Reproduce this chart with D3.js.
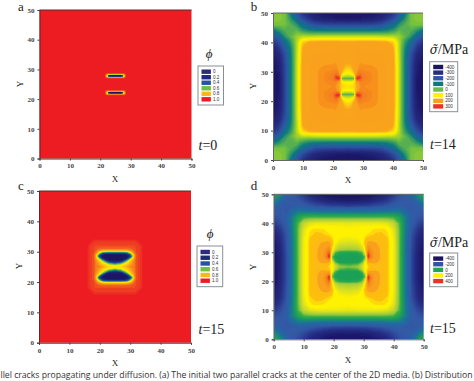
<!DOCTYPE html>
<html>
<head>
<meta charset="utf-8">
<script src="https://cdn.jsdelivr.net/npm/d3@7"></script>
<style>
  html, body { margin: 0; padding: 0; background: #fff; overflow: hidden; }
  svg { display: block; }
  text { font-family: "Liberation Serif", serif; fill: #222; }
  .tick text { font-size: 7px; font-weight: bold; fill: #444; }
  .legend-label { font-family: "Liberation Sans", sans-serif; font-size: 4.6px; fill: #333; }
  .caption { font-family: "Open Sans", sans-serif; font-size: 8.7px; fill: #333; }
</style>
</head>
<body>
<div id="chart"></div>
<script>
var svgWidth = 474;
var svgHeight = 381;

var axisTicks = [0, 10, 20, 30, 40, 50];

// legends
var phiLegend = ["0", "0.2", "0.4", "0.6", "0.8", "1.0"];
var stressLegendB = ["-400", "-300", "-200", "-100", "0", "100", "200", "300"];
var stressLegendD = ["-400", "-200", "0", "200", "400"];

// colour maps, value then colour
var phiStops = [0, 0.2, 0.4, 0.5, 0.6, 0.7, 0.8, 0.9, 0.96, 1];
var phiColors = ["#1b1464", "#1f2a7a", "#2156a5", "#1c9a7a", "#72bf44", "#fff200", "#fdb913", "#f5731f", "#ef3e24", "#ed1c24"];
var stressStopsB = [-400, -300, -200, -100, 0, 100, 130, 160, 203, 212, 260, 300];
var stressColorsB = ["#1b1464", "#262c80", "#2f55a5", "#0b7a80", "#6abd45", "#fff200", "#fdd310", "#f9a51e", "#f9a01b", "#f68d1e", "#f26a23", "#ee3124"];
var stressStopsD = [-400, -300, -200, -100, -40, 0, 35, 70, 110, 150, 200, 224, 235, 270, 280, 300, 340, 400];
var stressColorsD = ["#1b1464", "#262f85", "#3358a6", "#1f6fa0", "#1c8f6c", "#1fa651", "#3fae49", "#8cc63f", "#b5d334", "#d7df23", "#fff200", "#fff200", "#fdc010", "#fdb913", "#f9a01b", "#f9a01b", "#f58220", "#ee3124"];

// field values, lower left quarter of each panel,
// the panels are close to symmetric about x=25 and y=25
var phiXa = [0, 21.5, 22.2, 22.8, 23.5, 25];
var phiYa = [0, 21.2, 21.5, 21.9, 22.15, 22.4, 22.8, 23.1, 25];
var phiA = [
  [1, 1, 1, 1, 1, 1],
  [1, 1, 1, 1, 1, 1],
  [1, 1, 0.9, 0.9, 0.9, 0.9],
  [1, 1, 0.75, 0.25, 0.1, 0.1],
  [1, 1, 0.75, 0.1, 0, 0],
  [1, 1, 0.75, 0.25, 0.1, 0.1],
  [1, 1, 0.9, 0.9, 0.9, 0.9],
  [1, 1, 1, 1, 1, 1],
  [1, 1, 1, 1, 1, 1]
];

var phiXc = [0, 16, 17, 18, 18.6, 19.2, 20, 21, 22, 23, 25];
var phiYc = [0, 16, 17, 18, 19, 19.6, 20, 20.4, 20.8, 21.4, 22, 22.6, 23, 23.5, 24, 24.5, 25];
var phiC = [
  [1, 1, 1, 1, 1, 1, 1, 1, 1, 1, 1],
  [1, 1, 1, 1, 1, 1, 1, 1, 1, 1, 1],
  [1, 1, 1, 0.98, 0.97, 0.97, 0.97, 0.97, 0.97, 0.97, 0.97],
  [1, 1, 0.98, 0.97, 0.96, 0.96, 0.96, 0.96, 0.96, 0.96, 0.96],
  [1, 1, 0.97, 0.96, 0.95, 0.94, 0.93, 0.92, 0.92, 0.92, 0.92],
  [1, 1, 0.97, 0.96, 0.94, 0.91, 0.86, 0.82, 0.8, 0.8, 0.8],
  [1, 1, 0.97, 0.96, 0.93, 0.86, 0.76, 0.68, 0.64, 0.62, 0.62],
  [1, 1, 0.97, 0.96, 0.9, 0.82, 0.66, 0.42, 0.38, 0.35, 0.35],
  [1, 1, 0.97, 0.95, 0.87, 0.74, 0.5, 0.25, 0.15, 0.12, 0.15],
  [1, 1, 0.97, 0.95, 0.84, 0.6, 0.25, 0.05, 0.02, 0, 0],
  [1, 1, 0.97, 0.95, 0.86, 0.72, 0.45, 0.12, 0.03, 0, 0],
  [1, 1, 0.97, 0.95, 0.88, 0.8, 0.7, 0.4, 0.12, 0.03, 0.03],
  [1, 1, 0.97, 0.95, 0.89, 0.84, 0.76, 0.62, 0.35, 0.12, 0.12],
  [1, 1, 0.97, 0.95, 0.9, 0.86, 0.8, 0.7, 0.6, 0.4, 0.25],
  [1, 1, 0.97, 0.95, 0.9, 0.87, 0.83, 0.76, 0.7, 0.62, 0.5],
  [1, 1, 0.97, 0.95, 0.9, 0.88, 0.85, 0.8, 0.76, 0.72, 0.68],
  [1, 1, 0.97, 0.95, 0.91, 0.89, 0.88, 0.84, 0.8, 0.76, 0.74]
];

var stressXb = [0, 2, 4, 6, 8, 9, 10, 12, 14, 17, 20, 21, 22, 23, 24, 25];
var stressYb = [0, 2, 4, 6, 8, 9, 10, 12, 14, 17, 19, 20, 21, 21.8, 22.3, 22.8, 23.5, 25];
var stressB = [
  [30, 25, 15, -110, -190, -240, -280, -320, -350, -380, -395, -400, -400, -400, -400, -400],
  [25, 25, 15, -60, -150, -190, -220, -270, -310, -340, -350, -360, -360, -360, -360, -370],
  [15, 15, 10, -20, -60, -100, -130, -175, -210, -225, -230, -230, -230, -230, -230, -230],
  [-110, -60, -20, -20, 0, -30, -50, -75, -85, -90, -90, -90, -90, -90, -90, -90],
  [-190, -150, -60, 0, 40, 50, 60, 60, 65, 70, 70, 70, 70, 70, 70, 70],
  [-240, -190, -100, -30, 50, 85, 105, 115, 118, 120, 120, 120, 120, 120, 120, 120],
  [-280, -220, -130, -50, 60, 105, 140, 170, 178, 185, 185, 185, 185, 180, 175, 175],
  [-320, -270, -175, -75, 60, 115, 170, 190, 195, 198, 198, 198, 198, 195, 190, 188],
  [-350, -310, -210, -85, 65, 118, 178, 195, 200, 203, 203, 203, 203, 195, 190, 185],
  [-380, -340, -225, -90, 70, 120, 185, 198, 205, 207, 208, 210, 205, 180, 170, 165],
  [-395, -350, -230, -90, 70, 125, 185, 198, 205, 215, 218, 220, 205, 170, 145, 135],
  [-395, -350, -230, -90, 70, 125, 185, 198, 205, 218, 225, 235, 215, 160, 120, 110],
  [-400, -360, -230, -90, 70, 125, 185, 198, 205, 220, 235, 265, 230, 120, 90, 85],
  [-400, -365, -230, -90, 70, 125, 185, 198, 205, 220, 240, 300, 300, 60, 40, 40],
  [-400, -365, -230, -90, 70, 125, 185, 198, 205, 220, 240, 290, 330, -10, -20, -20],
  [-400, -365, -230, -90, 70, 125, 185, 198, 205, 220, 235, 265, 260, 60, 40, 40],
  [-400, -370, -230, -90, 70, 125, 185, 198, 205, 220, 228, 230, 190, 110, 100, 100],
  [-400, -370, -230, -90, 70, 125, 185, 198, 205, 218, 220, 215, 165, 135, 125, 120]
];

var stressXd = [0, 2, 4, 6, 8, 10, 12, 14, 16, 17, 18, 18.5, 19.5, 20.5, 22, 25];
var stressYd = [0, 2, 4, 6, 8, 10, 12, 14, 15, 17, 19, 20, 21, 21.6, 22.5, 23.5, 24, 25];
var stressD = [
  [20, -30, -130, -190, -220, -270, -320, -350, -370, -380, -390, -390, -395, -400, -400, -400],
  [-30, -90, -170, -190, -200, -230, -270, -300, -320, -330, -340, -345, -350, -350, -360, -360],
  [-130, -170, -200, -190, -170, -180, -195, -215, -225, -235, -240, -245, -250, -250, -250, -260],
  [-190, -190, -190, -120, -70, -70, -75, -80, -85, -85, -85, -85, -85, -85, -85, -85],
  [-220, -200, -170, -70, 0, 40, 50, 50, 50, 50, 50, 50, 50, 50, 50, 50],
  [-270, -230, -180, -70, 40, 130, 165, 178, 180, 180, 180, 180, 180, 180, 180, 175],
  [-320, -270, -195, -75, 50, 165, 225, 235, 232, 228, 222, 220, 218, 215, 212, 208],
  [-350, -300, -215, -80, 50, 178, 235, 245, 245, 240, 235, 232, 228, 222, 210, 205],
  [-360, -310, -220, -85, 50, 185, 240, 250, 255, 255, 250, 248, 235, 218, 200, 190],
  [-370, -320, -225, -85, 50, 190, 245, 265, 285, 295, 300, 295, 260, 200, 160, 150],
  [-390, -330, -230, -90, 50, 190, 245, 270, 300, 310, 330, 340, 230, 140, 105, 95],
  [-395, -335, -235, -90, 50, 190, 245, 272, 300, 315, 350, 370, 190, 60, 20, 10],
  [-400, -340, -235, -90, 50, 190, 245, 272, 300, 320, 370, 420, 110, 15, -5, -10],
  [-400, -340, -235, -90, 50, 190, 245, 272, 300, 320, 365, 420, 60, 0, -10, -10],
  [-400, -340, -235, -90, 50, 190, 245, 272, 295, 310, 330, 345, 110, 10, -10, -10],
  [-400, -340, -235, -90, 50, 190, 245, 270, 285, 290, 290, 280, 200, 60, 0, -5],
  [-400, -340, -235, -90, 50, 190, 245, 268, 272, 270, 260, 250, 215, 110, 45, 25],
  [-400, -340, -235, -90, 50, 190, 245, 260, 262, 260, 245, 235, 210, 150, 85, 70]
];

var captionText = "llel cracks propagating under diffusion. (a) The initial two parallel cracks at the center of the 2D media. (b) Distribution";

var phiColor = d3.scaleLinear().domain(phiStops).range(phiColors).clamp(true);
var colorB = d3.scaleLinear().domain(stressStopsB).range(stressColorsB).clamp(true);
var colorD = d3.scaleLinear().domain(stressStopsD).range(stressColorsD).clamp(true);

var svg = d3.select("#chart")
    .append("svg")
    .attr("width", svgWidth)
    .attr("height", svgHeight);

svg.append("defs")
    .append("filter")
    .attr("id", "soft")
    .append("feGaussianBlur")
    .attr("stdDeviation", 0.45);

// mirror a quarter axis about 25
function mirrorAxis(q) {
    return q.concat(q.slice(0, -1).reverse().map(d => 50 - d));
}

// mirror the quarter field to the whole panel, flat as d3.contours wants
function mirrorField(rows) {
    var full = rows.concat(rows.slice(0, -1).reverse());
    var flat = [];
    full.forEach(function (row) {
        row.concat(row.slice(0, -1).reverse()).forEach(d => flat.push(d));
    });
    return flat;
}

function drawPanel(p) {
    var x = d3.scaleLinear().domain([0, 50]).range([p.left, p.right]);
    var y = d3.scaleLinear().domain([0, 50]).range([p.bottom, p.top]);

    var xs = mirrorAxis(p.xs);
    var ys = mirrorAxis(p.ys);

    // grid index to data value, the grid is not evenly spaced
    var xIndex = d3.scaleLinear().domain(d3.range(xs.length)).range(xs).clamp(true);
    var yIndex = d3.scaleLinear().domain(d3.range(ys.length)).range(ys).clamp(true);

    var path = d3.geoPath(d3.geoTransform({
        point: function (gx, gy) {
            this.stream.point(x(xIndex(gx - 0.5)), y(yIndex(gy - 0.5)));
        }
    }));

    var contours = d3.contours()
        .size([xs.length, ys.length])
        .thresholds(p.levels)(mirrorField(p.field));

    var clipId = "clip-" + p.name;
    svg.select("defs").append("clipPath")
        .attr("id", clipId)
        .append("rect")
        .attr("x", p.left)
        .attr("y", p.top)
        .attr("width", p.right - p.left)
        .attr("height", p.bottom - p.top);

    var plot = svg.append("g")
        .attr("clip-path", `url(#${clipId})`)
        .append("g")
        .attr("filter", "url(#soft)");

    plot.append("rect")
        .attr("x", p.left - 3)
        .attr("y", p.top - 3)
        .attr("width", p.right - p.left + 6)
        .attr("height", p.bottom - p.top + 6)
        .attr("fill", p.color(p.levels[0]));

    plot.selectAll("path")
        .data(contours)
        .enter()
        .append("path")
        .attr("d", path)
        .attr("fill", d => p.color(d.value));

    // axes
    svg.append("g")
        .attr("transform", `translate(0, ${p.bottom})`)
        .call(d3.axisBottom(x).tickValues(axisTicks).tickSize(2).tickPadding(3).tickFormat(d3.format("d")))
        .call(g => g.select(".domain").attr("stroke", p.frame));

    svg.append("g")
        .attr("transform", `translate(${p.left}, 0)`)
        .call(d3.axisLeft(y).tickValues(axisTicks).tickSize(2).tickPadding(3).tickFormat(d3.format("d")))
        .call(g => g.select(".domain").attr("stroke", p.frame));

    svg.selectAll(".tick line").attr("stroke", "#444");

    svg.append("line")
        .attr("x1", p.left).attr("x2", p.right)
        .attr("y1", p.top).attr("y2", p.top)
        .attr("stroke", p.frame);

    // axis labels
    svg.append("text")
        .attr("x", p.xLabel[0])
        .attr("y", p.xLabel[1])
        .attr("text-anchor", "middle")
        .attr("font-size", 9)
        .text("X");

    svg.append("text")
        .attr("transform", `translate(${p.yLabel[0]}, ${p.yLabel[1]}) rotate(-90)`)
        .attr("text-anchor", "middle")
        .attr("font-size", 9)
        .text("Y");

    svg.append("text")
        .attr("x", p.letter[0])
        .attr("y", p.letter[1])
        .attr("text-anchor", "middle")
        .attr("font-size", 13)
        .text(p.name);

    // legend
    var box = p.legend;
    svg.append("rect")
        .attr("x", box.x)
        .attr("y", box.y)
        .attr("width", box.w)
        .attr("height", box.h)
        .attr("fill", "#fff")
        .attr("stroke", "#8a8f94")
        .attr("stroke-width", 1);

    var rowY = d3.scalePoint()
        .domain(p.legendLabels)
        .range([box.y + box.first, box.y + box.h - box.first]);

    p.legendLabels.forEach(function (label, i) {
        svg.append("rect")
            .attr("x", box.x + 3.5)
            .attr("y", rowY(label) - 2.2)
            .attr("width", box.sw)
            .attr("height", 4.4)
            .attr("fill", p.swatches[i]);
        svg.append("text")
            .attr("class", "legend-label")
            .attr("x", box.x + box.sw + 5.5)
            .attr("y", rowY(label) + 1.7)
            .text(label);
    });

    // time label
    var time = svg.append("text")
        .attr("x", p.time[0])
        .attr("y", p.time[1])
        .attr("font-size", 14);
    time.append("tspan").attr("font-style", "italic").text("t");
    time.append("tspan").text("=" + p.timeValue);

    // legend title
    if (p.stress) {
        var title = svg.append("text")
            .attr("x", p.title[0])
            .attr("y", p.title[1])
            .attr("font-size", 14);
        title.append("tspan")
            .attr("font-family", "DejaVu Serif")
            .attr("font-style", "italic")
            .attr("font-size", 12)
            .text("\u03C3\u0303");
        title.append("tspan").text("/MPa");
    } else {
        svg.append("text")
            .attr("x", p.title[0])
            .attr("y", p.title[1])
            .attr("text-anchor", "middle")
            .attr("font-size", 13)
            .attr("font-style", "italic")
            .attr("fill", "#444")
            .text("\u03D5");
    }
}

var phiLevels = d3.range(0, 1.001, 0.02);
var stressLevels = d3.range(-400, 431, 10);
var phiSwatches = ["#2e2a7c", "#1f2a7a", "#2156a5", "#72bf44", "#fdb913", "#ed1c24"];
var swatchesB = ["#1b1464", "#262c80", "#2f55a5", "#0b7a80", "#6abd45", "#fff200", "#f9a01b", "#ee3124"];
var swatchesD = ["#1b1464", "#2f55a5", "#1fa651", "#fff200", "#ee3124"];

var panels = [
    { name: "a", left: 39.5, right: 191.5, top: 10, bottom: 158.5, xs: phiXa, ys: phiYa, field: phiA,
      levels: phiLevels, color: phiColor, frame: "#5a2a2a", xLabel: [115, 182], yLabel: [23, 84], letter: [21, 11],
      legend: { x: 198, y: 66, w: 25.5, h: 39, first: 5.7, sw: 9.4 }, legendLabels: phiLegend, swatches: phiSwatches,
      time: [198.5, 150], timeValue: "0", title: [209, 58], stress: false },
    { name: "b", left: 273, right: 423, top: 13, bottom: 160, xs: stressXb, ys: stressYb, field: stressB,
      levels: stressLevels, color: colorB, frame: "#666", xLabel: [348, 183], yLabel: [256, 86], letter: [254, 11],
      legend: { x: 429.7, y: 61.7, w: 28, h: 50, first: 5.3, sw: 10 }, legendLabels: stressLegendB, swatches: swatchesB,
      time: [430, 149], timeValue: "14", title: [429.7, 54.3], stress: true },
    { name: "c", left: 39, right: 191, top: 191, bottom: 342.7, xs: phiXc, ys: phiYc, field: phiC,
      levels: phiLevels, color: phiColor, frame: "#5a2a2a", xLabel: [115, 366], yLabel: [22, 266], letter: [21, 189.5],
      legend: { x: 197, y: 246, w: 25.7, h: 40.7, first: 6, sw: 9.4 }, legendLabels: phiLegend, swatches: phiSwatches,
      time: [198.5, 334], timeValue: "15", title: [210, 238], stress: false },
    { name: "d", left: 273.7, right: 423.7, top: 194.3, bottom: 339.3, xs: stressXd, ys: stressYd, field: stressD,
      levels: stressLevels, color: colorD, frame: "#666", xLabel: [348, 362.5], yLabel: [256, 267], letter: [254, 189.5],
      legend: { x: 429.7, y: 253, w: 28, h: 33.7, first: 5.6, sw: 10 }, legendLabels: stressLegendD, swatches: swatchesD,
      time: [430, 332.7], timeValue: "15", title: [429.7, 247], stress: true }
];

panels.forEach(drawPanel);

svg.append("text")
    .attr("class", "caption")
    .attr("x", 0.5)
    .attr("y", 378)
    .attr("textLength", 472)
    .text(captionText);
</script>
</body>
</html>
